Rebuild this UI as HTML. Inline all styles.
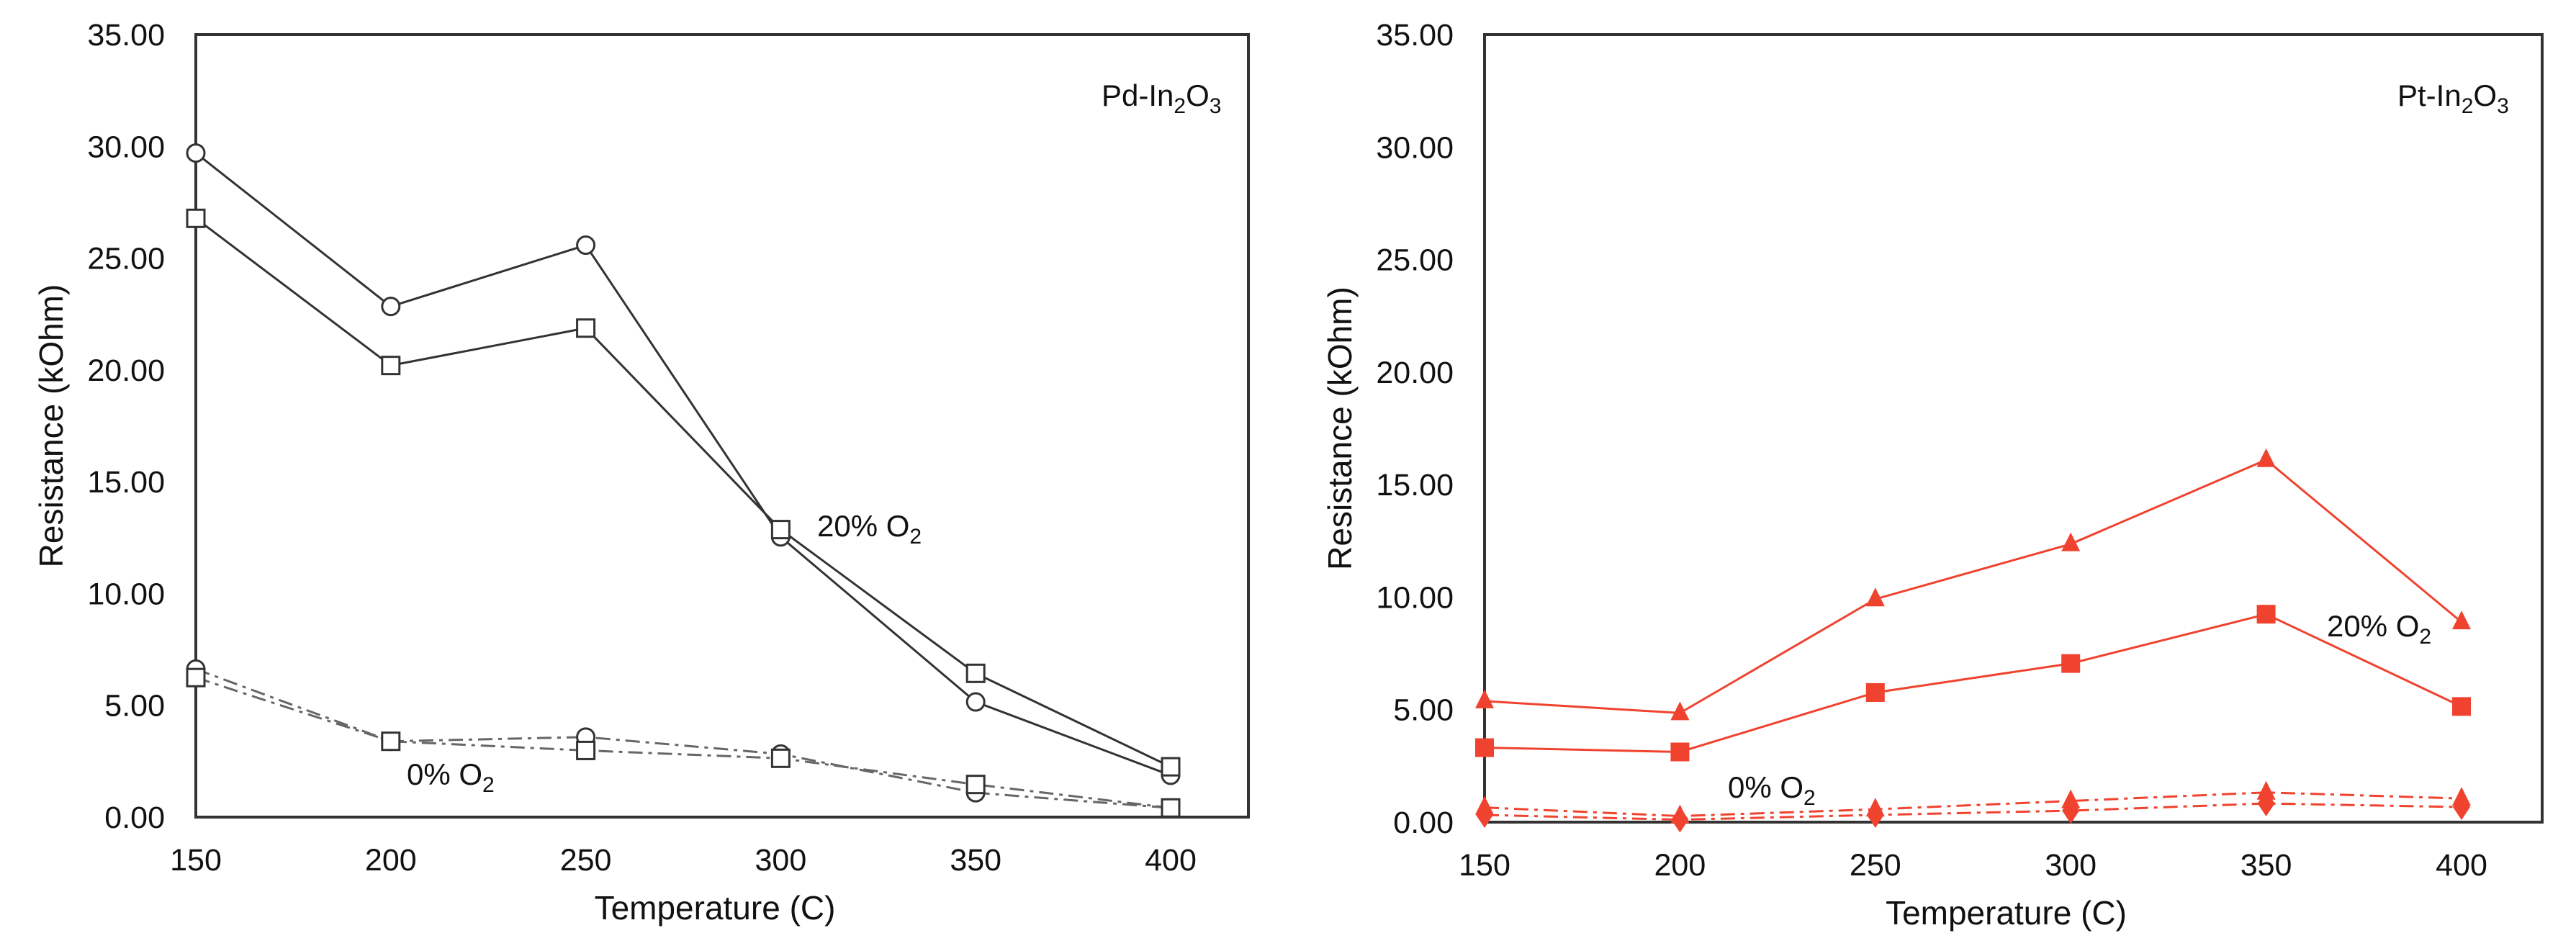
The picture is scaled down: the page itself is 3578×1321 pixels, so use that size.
<!DOCTYPE html>
<html><head><meta charset="utf-8"><style>
html,body{margin:0;padding:0;background:#fff}
svg{display:block}
text{font-family:"Liberation Sans",sans-serif;fill:#111}
</style></head><body>
<svg id="chart" width="3578" height="1321" viewBox="0 0 3578 1321" xmlns="http://www.w3.org/2000/svg"></svg>
<script>
const temps = [150, 200, 250, 300, 350, 400];
const yTicks = [0, 5, 10, 15, 20, 25, 30, 35];
const yTickLabels = ["0.00","5.00","10.00","15.00","20.00","25.00","30.00","35.00"];
// Pd-In2O3
const pdCircle20 = [29.7, 22.84, 25.58, 12.53, 5.15, 1.87];
const pdSquare20 = [26.78, 20.2, 21.87, 12.86, 6.43, 2.25];
const pdCircle0 = [6.62, 3.39, 3.58, 2.82, 1.09, 0.41];
const pdSquare0 = [6.24, 3.39, 2.98, 2.63, 1.46, 0.41];
// Pt-In2O3
const ptTri20 = [5.38, 4.85, 9.91, 12.36, 16.1, 8.89];
const ptSquare20 = [3.31, 3.12, 5.76, 7.05, 9.24, 5.14];
const ptTri0 = [0.65, 0.27, 0.57, 0.94, 1.32, 1.05];
const ptDiamond0 = [0.32, 0.11, 0.32, 0.51, 0.83, 0.67];

const NS = "http://www.w3.org/2000/svg";
const svg = document.getElementById('chart');
function mk(tag, attrs, parent){const e=document.createElementNS(NS,tag);for(const k in attrs)e.setAttribute(k,attrs[k]);(parent||svg).appendChild(e);return e;}

function panel(cfg){
  const g = mk('g',{});
  
  
  const L=cfg.left,R=cfg.right,T=cfg.top,B=cfg.bottom,x400=cfg.x400;
  const xs = t => L + (t-150)/250*(x400-L);
  const ys = v => B - v/35*(B-T);
  const frame = mk('rect',{x:L,y:T,width:R-L,height:B-T,fill:'none',stroke:'#333','stroke-width':4},g);
  
  
  yTicks.forEach((v,i)=>{
    const t = mk('text',{x:L-43,y:ys(v)+15,'font-size':43,'text-anchor':'end'},g);
    t.textContent = yTickLabels[i];
    
    
  });
  temps.forEach(v=>{
    const t = mk('text',{x:xs(v),y:B+74,'font-size':43,'text-anchor':'middle'},g);
    t.textContent = v;
    
    
  });
  const xt = mk('text',{x:(L+R)/2-10,y:B+142,'font-size':46,'text-anchor':'middle'},g);
  xt.textContent='Temperature (C)';
  
  
  const yt = mk('text',{x:0,y:0,'font-size':46,'text-anchor':'middle',transform:`translate(${L-185},${(T+B)/2}) rotate(-90)`},g);
  yt.textContent='Resistance (kOhm)';
  
  
  cfg.series.forEach(s=>{
    const pts = s.data.map((v,i)=>xs(temps[i])+','+ys(v)).join(' ');
    const pl = mk('polyline',{points:pts,fill:'none',stroke:s.color,'stroke-width':3,'stroke-dasharray':s.dash||'none'},g);
    
    
    s.data.forEach((v,i)=>{
      const cx=xs(temps[i]), cy=ys(v); let m;
      if(s.marker==='circle') m=mk('circle',{cx,cy,r:12,fill:'#fff',stroke:'#333','stroke-width':3},g);
      else if(s.marker==='osquare') m=mk('rect',{x:cx-12,y:cy-12,width:24,height:24,fill:'#fff',stroke:'#333','stroke-width':3},g);
      else if(s.marker==='square') m=mk('rect',{x:cx-13,y:cy-13,width:26,height:26,fill:s.color},g);
      else if(s.marker==='tri') m=mk('polygon',{points:`${cx},${cy-16} ${cx+13},${cy+10} ${cx-13},${cy+10}`,fill:s.color},g);
      else m=mk('polygon',{points:`${cx},${cy-18} ${cx+12},${cy} ${cx},${cy+18} ${cx-12},${cy}`,fill:s.color},g);
      
      
    });
  });
  cfg.labels.forEach(l=>{
    const t = mk('text',{x:l.x,y:l.y,'font-size':42},g);
    t.innerHTML = l.html;
    
    
  });
}
const red = '#f0432f';
panel({name:'pd-in2o3-chart',left:272,right:1734,top:48,bottom:1135,x400:1626,
  series:[
    {name:'pd-circle-20',data:pdCircle20,color:'#333',marker:'circle'},
    {name:'pd-square-20',data:pdSquare20,color:'#333',marker:'osquare'},
    {name:'pd-circle-0',data:pdCircle0,color:'#666',marker:'circle',dash:'20 8 5 8'},
    {name:'pd-square-0',data:pdSquare0,color:'#666',marker:'osquare',dash:'20 8 5 8'}],
  labels:[
    {name:'panel-title',x:1530,y:147,html:'Pd-In<tspan font-size="30" dy="10">2</tspan><tspan dy="-10">O</tspan><tspan font-size="30" dy="10">3</tspan>'},
    {name:'label-20-o2',x:1135,y:745,html:'20% O<tspan font-size="30" dy="10">2</tspan>'},
    {name:'label-0-o2',x:565,y:1090,html:'0% O<tspan font-size="30" dy="10">2</tspan>'}]
});
panel({name:'pt-in2o3-chart',left:2062,right:3531,top:48,bottom:1142,x400:3419,
  series:[
    {name:'pt-tri-20',data:ptTri20,color:red,marker:'tri'},
    {name:'pt-square-20',data:ptSquare20,color:red,marker:'square'},
    {name:'pt-tri-0',data:ptTri0,color:red,marker:'tri',dash:'20 8 5 8'},
    {name:'pt-diamond-0',data:ptDiamond0,color:red,marker:'diamond',dash:'20 8 5 8'}],
  labels:[
    {name:'panel-title',x:3330,y:147,html:'Pt-In<tspan font-size="30" dy="10">2</tspan><tspan dy="-10">O</tspan><tspan font-size="30" dy="10">3</tspan>'},
    {name:'label-20-o2',x:3232,y:884,html:'20% O<tspan font-size="30" dy="10">2</tspan>'},
    {name:'label-0-o2',x:2400,y:1108,html:'0% O<tspan font-size="30" dy="10">2</tspan>'}]
});
</script>
</body></html>
